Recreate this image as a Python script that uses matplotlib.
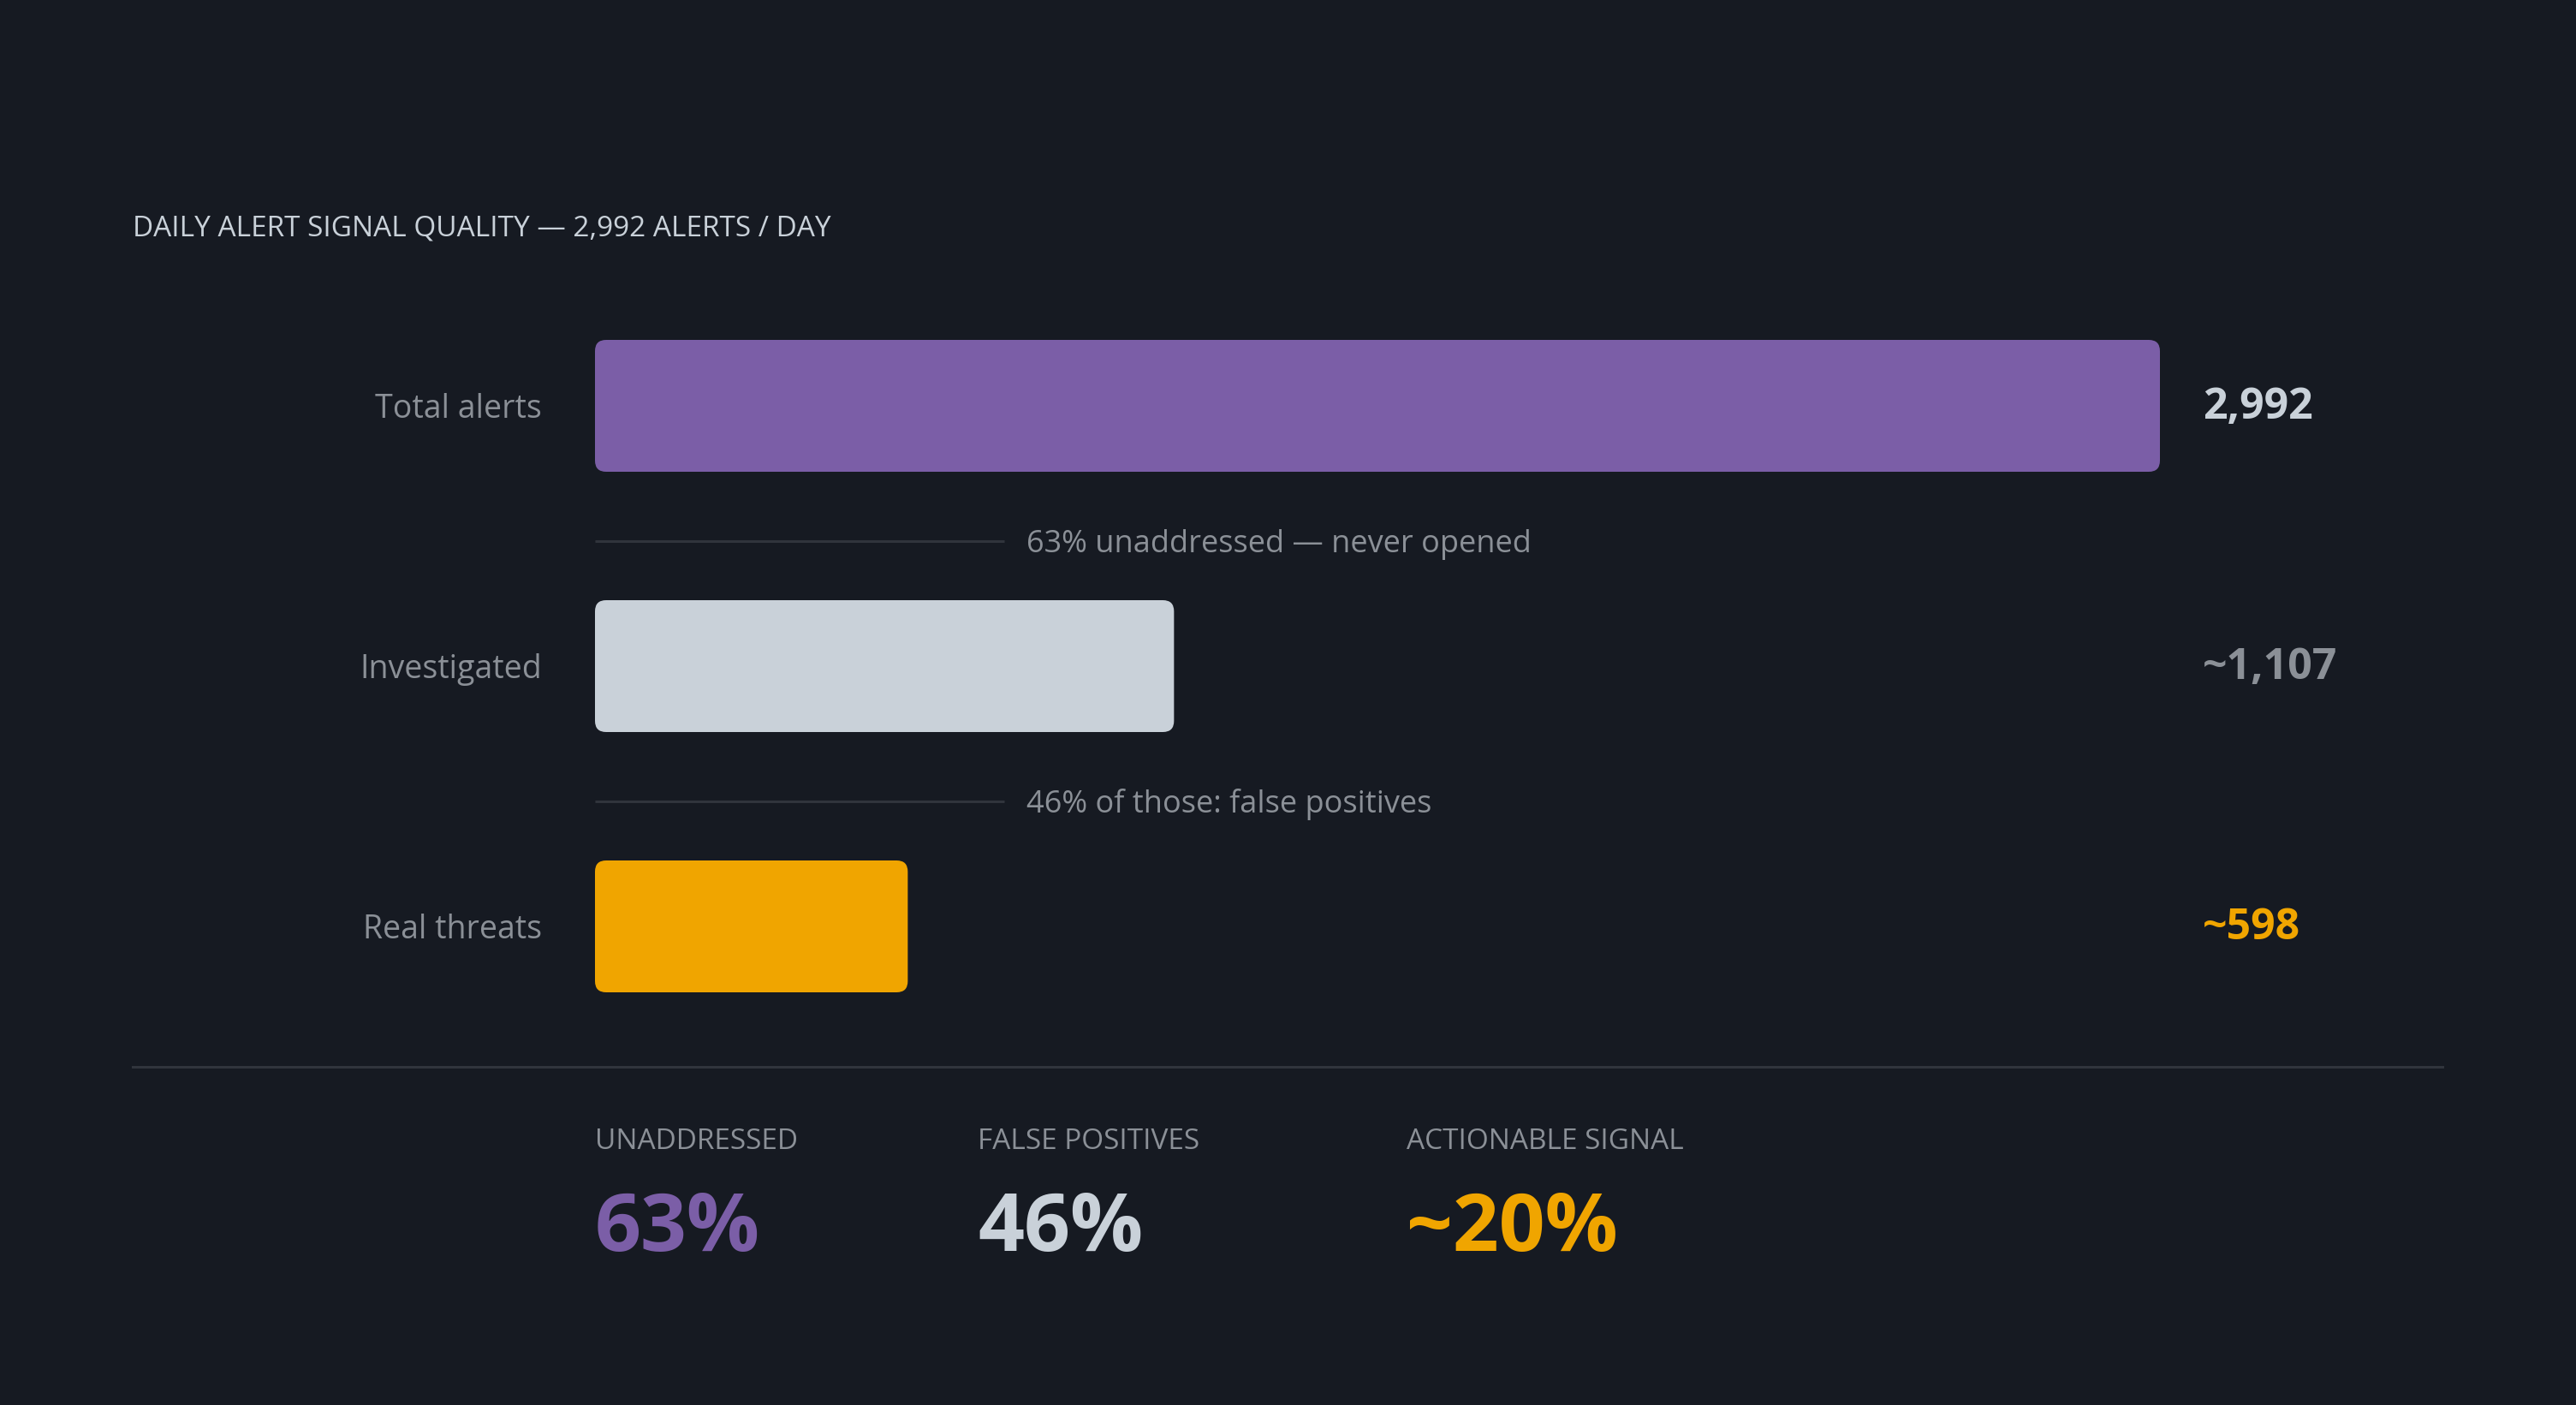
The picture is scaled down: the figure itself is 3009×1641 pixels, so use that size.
import matplotlib
matplotlib.use("Agg")
import matplotlib.pyplot as plt
from matplotlib.patches import FancyBboxPatch

# ---- data ----
categories = ["Total alerts", "Investigated", "Real threats"]
values = [2992, 1107, 598]
value_labels = ["2,992", "~1,107", "~598"]
connector_texts = ["63% unaddressed \u2014 never opened", "46% of those: false positives"]
stat_titles = ["UNADDRESSED", "FALSE POSITIVES", "ACTIONABLE SIGNAL"]
stat_values = ["63%", "46%", "~20%"]
title = "DAILY ALERT SIGNAL QUALITY \u2014 2,992 ALERTS / DAY"

# ---- style ----
BG = "#161a22"
bar_colors = ["#7b5ea7", "#c9d1d9", "#f0a500"]
value_colors = ["#c9d1d9", "#8b9097", "#f0a500"]
stat_colors = ["#7b5ea7", "#c9d1d9", "#f0a500"]
GRAY = "#8b9097"
LINE = "#30343c"
FONT = ["Open Sans", "DejaVu Sans"]
plt.rcParams["font.family"] = FONT

W, H = 3009, 1641
fig = plt.figure(figsize=(W / 100, H / 100), dpi=100, facecolor=BG)

# overlay in pixel coordinates
ov = fig.add_axes([0, 0, 1, 1])
ov.set_xlim(0, W)
ov.set_ylim(H, 0)
ov.axis("off")
ov.set_facecolor(BG)

# bar axes
bl, br = 695, 2523
bt, bb = 322, 1234
ax = fig.add_axes([bl / W, 1 - bb / H, (br - bl) / W, (bb - bt) / H])
ax.set_facecolor("none")
ax.set_xlim(0, max(values))
ax.set_ylim(len(categories) - 0.5, -0.5)
ax.axis("off")

bar_h = 154 / ((bb - bt) / 3)
px_x = max(values) / (br - bl)       # data x per pixel
px_y = 3 / (bb - bt)                  # data y per pixel
r_px = 13
for i, (v, c) in enumerate(zip(values, bar_colors)):
    p = FancyBboxPatch((0, i - bar_h / 2), v, bar_h,
                       boxstyle=f"round,pad=0,rounding_size={r_px * px_x}",
                       mutation_aspect=px_y / px_x,
                       facecolor=c, edgecolor="none")
    ax.add_patch(p)
    ax.annotate(categories[i], xy=(0, i), xytext=(-62, -4), textcoords="offset pixels",
                ha="right", va="center", fontsize=27, color=GRAY)
    ax.annotate(value_labels[i], xy=(max(values), i), xytext=(50, -2),
                textcoords="offset pixels", ha="left", va="center",
                fontsize=36, fontweight="bold", color=value_colors[i])

# connectors
for k, (y, t) in enumerate(zip([632, 936], connector_texts)):
    ov.plot([695, 1173], [y, y], color=LINE, lw=2.2, solid_capstyle="butt")
    ov.text(1199, y + 4, t, ha="left", va="center", fontsize=26, color=GRAY)

# title
ov.text(155, 267, title, ha="left", va="center", fontsize=24, color="#c9d1d9")

# divider
ov.plot([155, 2853], [1246, 1246], color=LINE, lw=2.2)

# stats
for x, t, v, c in zip([695, 1142, 1643], stat_titles, stat_values, stat_colors):
    ov.text(x, 1333, t, ha="left", va="center", fontsize=24, color=GRAY)
    ov.text(x, 1436, v, ha="left", va="center", fontsize=68, fontweight="bold", color=c)

fig.savefig("out.png", dpi=100, facecolor=BG)
